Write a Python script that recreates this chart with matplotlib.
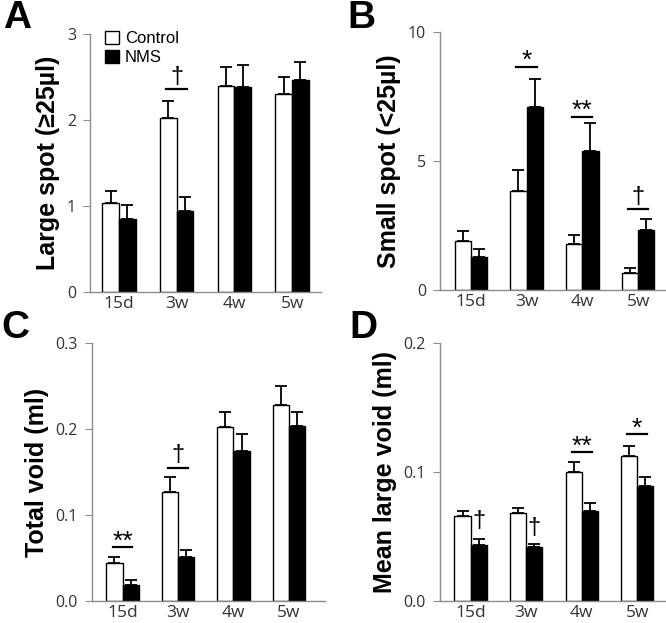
import numpy as np
import matplotlib.pyplot as plt
from matplotlib.patches import Patch
from matplotlib.transforms import offset_copy

groups = ["15d", "3w", "4w", "5w"]

large_ctrl = [1.03, 2.02, 2.40, 2.30]
large_ctrl_err = [0.15, 0.20, 0.22, 0.20]
large_nms = [0.85, 0.94, 2.38, 2.46]
large_nms_err = [0.16, 0.16, 0.26, 0.22]

small_ctrl = [1.91, 3.82, 1.80, 0.65]
small_ctrl_err = [0.38, 0.83, 0.32, 0.20]
small_nms = [1.27, 7.08, 5.40, 2.33]
small_nms_err = [0.32, 1.08, 1.06, 0.43]

total_ctrl = [0.0437, 0.127, 0.202, 0.2276]
total_ctrl_err = [0.0078, 0.017, 0.018, 0.022]
total_nms = [0.0186, 0.051, 0.174, 0.203]
total_nms_err = [0.0054, 0.0086, 0.020, 0.017]

mean_ctrl = [0.066, 0.0679, 0.100, 0.1125]
mean_ctrl_err = [0.0037, 0.0041, 0.008, 0.008]
mean_nms = [0.0434, 0.0415, 0.0694, 0.0888]
mean_nms_err = [0.0043, 0.0026, 0.0066, 0.0075]

# (group index, line y, text y, label); line y None -> no line
sig_a = [(1, 2.36, 2.50, "†")]
sig_b = [(1, 8.66, 9.04, "*"), (2, 6.72, 7.10, "**"), (3, 3.14, 3.62, "†")]
sig_c = [(0, 0.063, 0.0735, "**"), (1, 0.155, 0.170, "†")]
sig_d = [(0, None, 0.062, "†"), (1, None, 0.0568, "†"),
         (2, 0.1154, 0.1226, "**"), (3, 0.1298, 0.1368, "*")]

GREY = "#8c8c8c"
TICKCOL = "#333333"
BW = 0.29


def draw_panel(ax, ctrl, ctrl_err, nms, nms_err, ylim, yticks, yfmt, ylabel,
               sigs, xlim):
    x = np.arange(len(groups))
    for xs, vals, errs, col in [(x - BW / 2, ctrl, ctrl_err, "white"),
                                (x + BW / 2, nms, nms_err, "black")]:
        ax.bar(xs, vals, BW, color=col, edgecolor="black", linewidth=1.0,
               zorder=2)
        ax.errorbar(xs, vals, yerr=[np.zeros(len(errs)), errs], fmt="none",
                    ecolor="black", elinewidth=1.3, capsize=4, capthick=1.3,
                    zorder=1)
    for gi, ly, ty, lab in sigs:
        if lab == "†":
            fs, tr = 17, ax.transData
        else:
            # asterisks sit high in the glyph box, nudge them down
            fs = 19
            tr = offset_copy(ax.transData, fig=ax.figure, y=-4, units="dots")
        xc = gi + BW / 2 if ly is None else gi
        if ly is not None:
            ax.plot([gi - 0.18, gi + 0.18], [ly, ly], color="black", lw=1.6)
        ax.text(xc, ty, lab, ha="center", va="center", fontsize=fs,
                family="Liberation Sans", transform=tr)
    ax.set_xlim(*xlim)
    ax.set_ylim(*ylim)
    ax.set_yticks(yticks)
    ax.set_yticklabels([yfmt.format(v) for v in yticks])
    ax.set_xticks(x)
    ax.set_xticklabels(groups)
    for s in ["top", "right"]:
        ax.spines[s].set_visible(False)
    for s in ["left", "bottom"]:
        ax.spines[s].set_color(GREY)
        ax.spines[s].set_linewidth(1.0)
    ax.tick_params(axis="y", direction="out", length=5, color=GREY,
                   labelsize=11.5, labelcolor=TICKCOL, pad=5)
    ax.tick_params(axis="x", length=0, labelsize=12.5, labelcolor=TICKCOL,
                   pad=3)
    for t in ax.get_xticklabels() + ax.get_yticklabels():
        t.set_family("Open Sans")
    ax.set_ylabel(ylabel, fontsize=18, fontweight="bold",
                  family="Liberation Sans", labelpad=5)


fig = plt.figure(figsize=(6.66, 6.23), dpi=100)
W, H = 666, 623


def add_axes(l, r, t, b):
    return fig.add_axes([l / W, 1 - b / H, (r - l) / W, (b - t) / H])


ax_a = add_axes(90, 321, 34, 292)
ax_b = add_axes(440, 665, 32, 290)
ax_c = add_axes(92, 325, 343, 601)
ax_d = add_axes(440, 665, 343, 601)

draw_panel(ax_a, large_ctrl, large_ctrl_err, large_nms, large_nms_err,
           (0, 3), [0, 1, 2, 3], "{:.0f}", "Large spot (≥25µl)", sig_a,
           (-0.5, 3.5))
draw_panel(ax_b, small_ctrl, small_ctrl_err, small_nms, small_nms_err,
           (0, 10), [0, 5, 10], "{:.0f}", "Small spot (<25µl)", sig_b,
           (-0.55, 3.48))
draw_panel(ax_c, total_ctrl, total_ctrl_err, total_nms, total_nms_err,
           (0, 0.3), [0, 0.1, 0.2, 0.3], "{:.1f}", "Total void (ml)", sig_c,
           (-0.55, 3.65))
draw_panel(ax_d, mean_ctrl, mean_ctrl_err, mean_nms, mean_nms_err,
           (0, 0.2), [0, 0.1, 0.2], "{:.1f}", "Mean large void (ml)", sig_d,
           (-0.55, 3.5))

handles = [Patch(facecolor="white", edgecolor="black", linewidth=1.0),
           Patch(facecolor="black", edgecolor="black")]
ax_a.legend(handles, ["Control", "NMS"], loc="upper left",
            bbox_to_anchor=(0.0, 1.07), frameon=False, handlelength=0.85,
            handleheight=0.85, handletextpad=0.35, labelspacing=0.2,
            prop={"family": "Liberation Sans", "size": 12})

for lab, px, py in [("A", 3, 0), ("B", 347, 0), ("C", 1, 310), ("D", 349, 310)]:
    fig.text(px / W, 1 - py / H, lab, fontsize=28, fontweight="bold",
             family="Liberation Sans", ha="left", va="top")

fig.savefig("out.png", dpi=100)
